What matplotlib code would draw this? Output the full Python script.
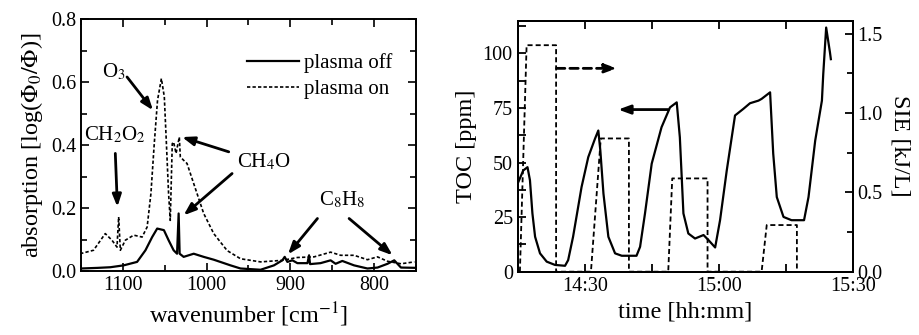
import numpy as np
import matplotlib
matplotlib.use('Agg')
import matplotlib.pyplot as plt
from matplotlib.ticker import MultipleLocator, FixedLocator

plt.rcParams['font.family'] = ['Liberation Serif', 'DejaVu Serif']
plt.rcParams['mathtext.fontset'] = 'stix'

# ---- left panel: absorption spectra ----
wn_off = [1150, 1130, 1115, 1099, 1083, 1073, 1065, 1059, 1051, 1045.4, 1039.4, 1035.3,
          1033.4, 1032.2, 1027.4, 1015.4, 1003.5, 991.5, 971.5, 959.5, 935.6, 919.6,
          909.6, 906.8, 903.6, 897.6, 891.6, 879.6, 877.7, 876.5, 864, 852, 846, 838,
          824, 808, 796, 784, 776, 768, 749]
ab_off = [0.008, 0.010, 0.012, 0.018, 0.029, 0.066, 0.108, 0.135, 0.13, 0.098, 0.066, 0.055,
          0.183, 0.055, 0.045, 0.055, 0.045, 0.036, 0.018, 0.008, 0.004, 0.018,
          0.034, 0.045, 0.029, 0.034, 0.025, 0.025, 0.05, 0.022, 0.025, 0.034, 0.023, 0.032,
          0.018, 0.008, 0.011, 0.023, 0.034, 0.011, 0.01]

wn_on = [1151, 1135, 1121, 1113, 1107, 1105, 1103, 1097, 1087, 1077, 1071, 1066.5, 1062.5,
         1058.6, 1054, 1050.5, 1048, 1045.4, 1043.4, 1041, 1039.4, 1036.5, 1032.6, 1031.4,
         1027.4, 1023.4, 1015.4, 1003.5, 991.5, 975.5, 959.5, 935.6, 909.6, 891.6, 871.7,
         852, 840, 824, 808, 796, 784, 768, 752]
ab_on = [0.055, 0.066, 0.119, 0.098, 0.076, 0.172, 0.066, 0.098, 0.114, 0.108, 0.14, 0.246, 0.405,
         0.543, 0.612, 0.554, 0.405, 0.246, 0.161, 0.405, 0.41, 0.374, 0.426, 0.363,
         0.352, 0.342, 0.278, 0.183, 0.119, 0.065, 0.039, 0.029, 0.034, 0.043, 0.045,
         0.06, 0.05, 0.05, 0.036, 0.045, 0.031, 0.023, 0.029]

# ---- right panel: TOC and SIE over time (minutes after 14:00) ----
t_toc = [15, 16.25, 17.2, 17.75, 18.3, 18.9, 20, 21.5, 23.35, 25.6, 26.3, 27.4, 29.3, 30.8,
         32.3, 33.05, 33.5, 34.2, 35.3, 36.8, 38.3, 41.6, 42.4, 43.5, 45, 47.2, 49.1, 50.6,
         51.3, 52.1, 53.2, 54.7, 56.6, 57.7, 59.2, 60.3, 61.8, 63.65, 65.5, 67, 68.9, 69.6,
         71.5, 72.2, 73, 74.5, 76.3, 79.1, 80.1, 81.6, 83.1, 83.4, 84.05, 84.9, 85.1]
toc = [40.4, 46.4, 47.9, 41.9, 26.7, 16, 8.4, 4.6, 3.1, 2.7, 5.3, 16, 38.8, 52.5,
       60.9, 64.7, 55.6, 35.8, 16, 8.4, 7.3, 7.3, 11.4, 26.7, 49.5, 66.2, 75.3, 77.6,
       61.6, 26.7, 17.5, 15.2, 16.8, 14.5, 11.1, 23.6, 46.4, 71.6, 74.6, 77.2, 78.4, 79.2,
       82.2, 54.1, 34.2, 25.1, 23.6, 23.6, 34.2, 60.1, 78.4, 90.6, 111.9, 100.5, 97.4]

t_sie = [15.5, 17.0, 23.6, 23.6, 31.4, 33.6, 39.9, 39.9, 48.7, 49.6, 57.5, 57.5,
         69.6, 70.75, 77.5, 77.5]
sie = [0.0, 1.428, 1.428, 0.0, 0.0, 0.84, 0.84, 0.0, 0.0, 0.588, 0.588, 0.0,
       0.0, 0.294, 0.294, 0.0]

time_ticks = [30, 60, 90]
time_labels = ['14:30', '15:00', '15:30']

fig = plt.figure(figsize=(9.19, 3.35), dpi=100)
tfs = 14.5   # tick labels
afs = 15     # legend / annotations
lfs = 17.5   # axis labels


def arrow(ax, start, end, ls='-'):
    ax.annotate('', xy=end, xytext=start,
                arrowprops=dict(arrowstyle='-|>,head_length=0.6,head_width=0.22',
                                mutation_scale=12, color='black', lw=2,
                                ls=ls, shrinkA=0, shrinkB=0))


ax1 = fig.add_axes([0.0881, 0.191, 0.3646, 0.751])
ax1.plot(wn_off, ab_off, color='black', lw=1.6, label='plasma off')
ax1.plot(wn_on, ab_on, color='black', lw=1.2, ls=(0, (2, 1.3)), label='plasma on')
ax1.set_xlim(1150, 750)
ax1.set_ylim(0, 0.8)
ax1.xaxis.set_major_locator(MultipleLocator(100))
ax1.xaxis.set_minor_locator(MultipleLocator(50))
ax1.yaxis.set_major_locator(MultipleLocator(0.2))
ax1.yaxis.set_minor_locator(MultipleLocator(0.1))
ax1.yaxis.set_major_formatter(plt.FuncFormatter(lambda v, p: f'{v:.1f}'))
ax1.tick_params(which='both', direction='in', top=True, right=True, labelsize=tfs, width=1.2)
ax1.tick_params(which='major', length=6)
ax1.tick_params(which='minor', length=4)
ax1.set_xlabel('wavenumber [cm$^{-1}$]', fontsize=lfs)
ax1.set_ylabel(r'absorption [log($\Phi_0/\Phi$)]', fontsize=lfs)
ax1.legend(loc='center left', frameon=False, fontsize=afs, handlelength=2.5,
           handletextpad=0.25, labelspacing=0.3, borderpad=0.4,
           bbox_to_anchor=(0.44, 0.775))

ax1.text(1111, 0.633, 'O$_3$', fontsize=afs, ha='center', va='center')
arrow(ax1, (1095, 0.617), (1064, 0.511))
ax1.text(1109, 0.432, 'CH$_2$O$_2$', fontsize=afs, ha='center', va='center')
arrow(ax1, (1109, 0.374), (1106.5, 0.204))
ax1.text(931.6, 0.347, 'CH$_4$O', fontsize=afs, ha='center', va='center')
arrow(ax1, (973.6, 0.379), (1029.4, 0.426))
arrow(ax1, (969.6, 0.31), (1027.5, 0.177))
ax1.text(837.7, 0.225, 'C$_8$H$_8$', fontsize=afs, ha='center', va='center')
arrow(ax1, (867.7, 0.167), (902.9, 0.053))
arrow(ax1, (829.9, 0.167), (778, 0.05))
for s in ax1.spines.values():
    s.set_linewidth(1.4)

ax2 = fig.add_axes([0.5633, 0.189, 0.3646, 0.749])
ax2.plot(t_toc, toc, color='black', lw=1.6)
ax2.set_xlim(15, 90)
ax2.set_ylim(0, 115)
ax2.set_xticks(time_ticks)
ax2.set_xticklabels(time_labels)
ax2.xaxis.set_minor_locator(FixedLocator([45, 75]))
ax2.yaxis.set_major_locator(MultipleLocator(25))
ax2.yaxis.set_minor_locator(MultipleLocator(12.5))
ax2.tick_params(which='both', direction='in', top=True, labelsize=tfs, width=1.3)
ax2.tick_params(which='major', length=6)
ax2.tick_params(which='minor', length=6)
ax2.set_xlabel('time [hh:mm]', fontsize=lfs)
ax2.set_ylabel('TOC [ppm]', fontsize=lfs)
arrow(ax2, (48.7, 74.3), (37.5, 74.3))

ax3 = ax2.twinx()
ax3.plot(t_sie, sie, color='black', lw=1.3, ls=(0, (2.8, 1.7)))
ax3.set_ylim(0, 1.582)
ax3.yaxis.set_major_locator(MultipleLocator(0.5))
ax3.yaxis.set_minor_locator(MultipleLocator(0.25))
ax3.yaxis.set_major_formatter(plt.FuncFormatter(lambda v, p: f'{v:.1f}'))
ax3.tick_params(which='both', direction='in', labelsize=tfs, width=1.3)
ax3.tick_params(which='major', length=6)
ax3.tick_params(which='minor', length=4)
ax3.set_ylabel('SIE [kJ/L]', fontsize=lfs, rotation=270, labelpad=20)
arrow(ax3, (23.7, 1.282), (37.2, 1.282), ls=(0, (3, 1.8)))
for a in (ax2, ax3):
    for s in a.spines.values():
        s.set_linewidth(1.4)

fig.savefig('out.png', dpi=100)
